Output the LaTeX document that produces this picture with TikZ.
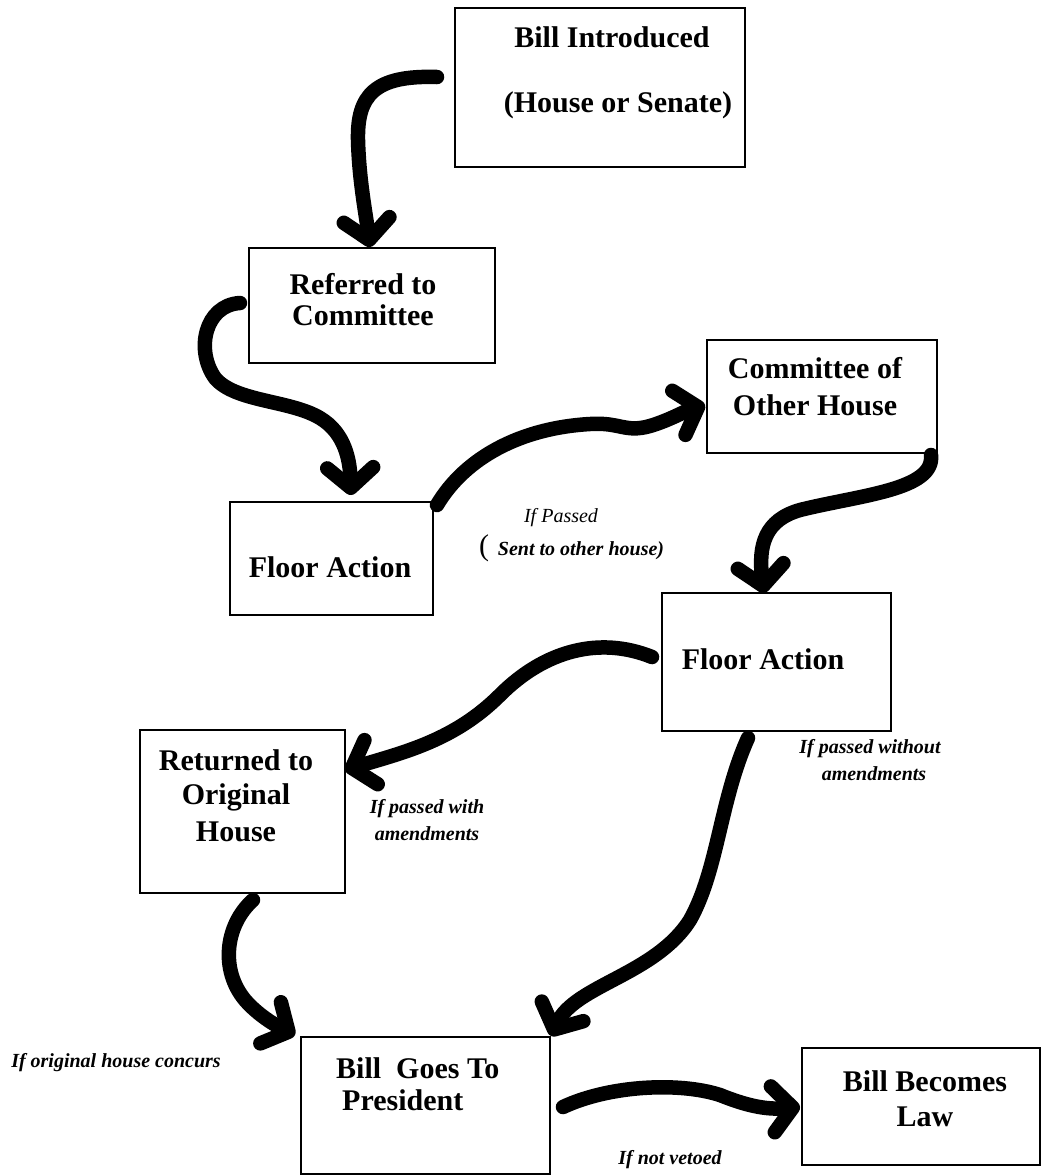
\documentclass[tikz,border=0pt]{standalone}
\usepackage{fontspec}
\setmainfont{Liberation Serif}
\usetikzlibrary{arrows.meta}
\begin{document}
\begin{tikzpicture}[x=1pt,y=-1pt,
  box/.style={draw, line width=1.3pt, inner sep=0pt},
  ttl/.style={font=\bfseries\fontsize{30}{36}\selectfont, inner sep=0pt},
  lbl/.style={font=\bfseries\itshape\fontsize{20}{24}\selectfont, inner sep=0pt},
  flow/.style={line width=14.5pt, line cap=round, line join=round,
    -{Straight Barb[length=20pt,width=46pt,round]}},
]
\useasboundingbox (0,0) rectangle (1042,1176);

% boxes
\node[box, minimum width=290pt, minimum height=159pt] (b1) at (600,87.5) {};
\node[box, minimum width=246pt, minimum height=115pt] (b2) at (372,305.5) {};
\node[box, minimum width=230pt, minimum height=113pt] (b3) at (822,396.5) {};
\node[box, minimum width=203pt, minimum height=113pt] (b4) at (331.5,558.5) {};
\node[box, minimum width=229pt, minimum height=138pt] (b5) at (776.5,662) {};
\node[box, minimum width=205pt, minimum height=163pt] (b6) at (242.5,811.5) {};
\node[box, minimum width=249pt, minimum height=137pt] (b7) at (425.5,1105.5) {};
\node[box, minimum width=238pt, minimum height=117pt] (b8) at (921,1106.5) {};

% box texts
\node[ttl] (t1a) at (612,37) {Bill Introduced};
\node[ttl] (t1b) at (618,105) {(House or Senate)};
\node[ttl] (t2a) at (363,284) {Referred to};
\node[ttl] (t2b) at (363,315) {Committee};
\node[ttl] (t3a) at (815,368) {Committee of};
\node[ttl] (t3b) at (815,405) {Other House};
\node[ttl] (t4) at (330,567) {Floor Action};
\node[ttl] (t5) at (763,659) {Floor Action};
\node[ttl] (t6a) at (236,760) {Returned to};
\node[ttl] (t6b) at (236,797) {Original};
\node[ttl] (t6c) at (236,832) {House};
\node[ttl, anchor=west] (t7a) at (336,1068) {Bill\ \ Goes To};
\node[ttl, anchor=west] (t7b) at (342,1100) {President};
\node[ttl] (t8a) at (925,1081) {Bill Becomes};
\node[ttl] (t8b) at (925,1117) {Law};

% labels
\node[inner sep=0pt, font=\itshape\fontsize{20}{24}\selectfont] (l1) at (561,518) {If Passed};
\node[inner sep=0pt, font=\fontsize{30}{36}\selectfont] (l2p) at (484,548) {(};
\node[lbl] (l2) at (581,551) {Sent to other house)};
\node[lbl] (l3a) at (870,749) {If passed without};
\node[lbl] (l3b) at (874,774) {amendments};
\node[lbl] (l4a) at (427,809) {If passed with};
\node[lbl] (l4b) at (427,834) {amendments};
\node[lbl] (l5) at (116,1063) {If original house concurs};
\node[lbl] (l6) at (670,1160) {If not vetoed};

% connector ends
\coordinate (a1s) at (437,77);   \coordinate (a1e) at (370,247);
\coordinate (a2s) at (240,303);  \coordinate (a2e) at (351,495);
\coordinate (a3s) at (437,505);  \coordinate (a3e) at (705,405);
\coordinate (a4s) at (931,455);  \coordinate (a4e) at (764,593);
\coordinate (a5s) at (652,657);  \coordinate (a5e) at (345,770);
\coordinate (a6s) at (748,738);  \coordinate (a6e) at (551,1036);
\coordinate (a7s) at (253,900);  \coordinate (a7e) at (295,1035);
\coordinate (a8s) at (563,1107); \coordinate (a8e) at (800,1107);

% connectors
\draw[flow] (a1s) .. controls (375,75) and (357,95) .. (358,140)
  .. controls (359,180) and (366,215) .. (a1e);
\draw[flow] (a2s) .. controls (205,305) and (195,350) .. (215,378)
  .. controls (235,402) and (290,400) .. (320,418)
  .. controls (345,433) and (350,460) .. (a2e);
\draw[flow] (a3s) .. controls (465,458) and (520,428) .. (590,424)
  .. controls (620,422) and (625,433) .. (650,426)
  .. controls (670,420) and (685,411) .. (a3e);
\draw[flow] (a4s) .. controls (935,490) and (860,495) .. (800,510)
  .. controls (765,520) and (758,545) .. (a4e);
\draw[flow] (a5s) .. controls (600,636) and (545,650) .. (500,695)
  .. controls (455,740) and (405,752) .. (a5e);
\draw[flow] (a6s) .. controls (720,800) and (718,870) .. (690,920)
  .. controls (655,975) and (575,985) .. (a6e);
\draw[flow] (a7s) .. controls (225,925) and (220,970) .. (245,1000)
  .. controls (258,1015) and (275,1025) .. (a7e);
\draw[flow] (a8s) .. controls (610,1085) and (680,1082) .. (720,1095)
  .. controls (745,1105) and (765,1110) .. (a8e);
\end{tikzpicture}
\end{document}
